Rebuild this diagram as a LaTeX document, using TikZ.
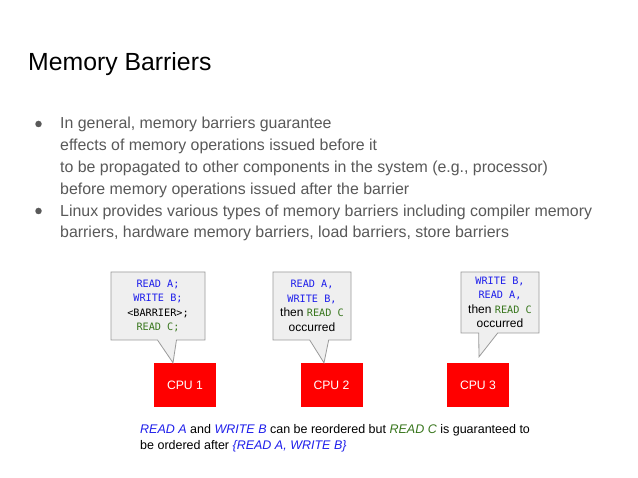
\documentclass[tikz,border=0pt]{standalone}
\usepackage{fontspec}
\setmainfont{Liberation Sans}
\newfontfamily\monofont{DejaVu Sans Mono}
\usetikzlibrary{shapes.callouts,calc}
\definecolor{bodygray}{HTML}{595959}
\definecolor{cblue}{RGB}{30,30,235}
\definecolor{cgreen}{HTML}{38761D}
\definecolor{calloutfill}{HTML}{EFEFEF}
\definecolor{calloutdraw}{HTML}{9A9A9A}
\definecolor{cpured}{HTML}{FF0000}
\newcommand\mc[1]{{\monofont\fontsize{10.2}{14.5}\selectfont #1}}
\newcommand\bl[1]{{\color{cblue}#1}}
\newcommand\gr[1]{{\color{cgreen}#1}}
\begin{document}
\begin{tikzpicture}[x=1pt,y=-1pt,
  bodytext/.style={anchor=base west, inner sep=0pt, text=bodygray, font=\fontsize{15.9}{18}\selectfont},
  bulletdot/.style={circle, fill=bodygray, inner sep=0pt, minimum size=6.5pt},
  cpubox/.style={rectangle, fill=cpured, text=white, minimum width=62pt, minimum height=44pt, inner sep=0pt, font=\fontsize{12.2}{14}\selectfont},
  callbox/.style={rectangle callout, fill=calloutfill, draw=calloutdraw, line width=0.8pt, inner sep=0pt, align=center, font=\fontsize{12}{14.5}\selectfont, callout pointer width=19pt},
  notetext/.style={anchor=base west, inner sep=0pt, font=\fontsize{12.5}{15}\selectfont}
]
\path[use as bounding box, fill=white] (0,0) rectangle (638,478);

\node[anchor=base west, inner sep=0pt, font=\fontsize{24.8}{28}\selectfont] (title) at (28,71) {Memory Barriers};

\node[bulletdot] (b1) at (38.5,124) {};
\node[bodytext] (l1) at (60,129) {In general, memory barriers guarantee};
\node[bodytext] (l2) at (60,150.8) {effects of memory operations issued before it};
\node[bodytext] (l3) at (60,172.6) {to be propagated to other components in the system (e.g., processor)};
\node[bodytext] (l4) at (60,194.4) {before memory operations issued after the barrier};
\node[bulletdot] (b2) at (38.5,211) {};
\node[bodytext] (l5) at (60,216.2) {Linux provides various types of memory barriers including compiler memory};
\node[bodytext] (l6) at (60,238) {barriers, hardware memory barriers, load barriers, store barriers};

\node[cpubox] (cpu1) at (185,385) {CPU 1};
\node[cpubox] (cpu2) at (331.5,385) {CPU 2};
\node[cpubox] (cpu3) at (478,385) {CPU 3};

\node[callbox, minimum width=94pt, minimum height=68pt, callout absolute pointer={($(cpu1.north)+(-12,0)$)}] (c1) at (158,306)
  {\mc{\bl{READ A;}}\\ \mc{\bl{WRITE B;}}\\ \mc{<BARRIER>;}\\ \mc{\gr{READ C;}}};
\node[callbox, minimum width=78pt, minimum height=68pt, callout absolute pointer={($(cpu2.north)+(-7.5,0)$)}] (c2) at (312,306)
  {\mc{\bl{READ A,}}\\ \mc{\bl{WRITE B,}}\\ then \mc{\gr{READ C}}\\ occurred};
\node[callbox, minimum width=78pt, minimum height=61pt, callout absolute pointer={($(cpu3.north)+(1,-6)$)}] (c3) at (500,302.5)
  {\mc{\bl{WRITE B,}}\\ \mc{\bl{READ A,}}\\ then \mc{\gr{READ C}}\\ occurred};

\node[notetext] (n1) at (140,434) {{\color{cblue}\itshape READ A} and {\color{cblue}\itshape WRITE B} can be reordered but {\color{cgreen}\itshape READ C} is guaranteed to};
\node[notetext] (n2) at (140,449.5) {be ordered after {\color{cblue}\itshape \{READ A, WRITE B\}}};
\end{tikzpicture}
\end{document}
